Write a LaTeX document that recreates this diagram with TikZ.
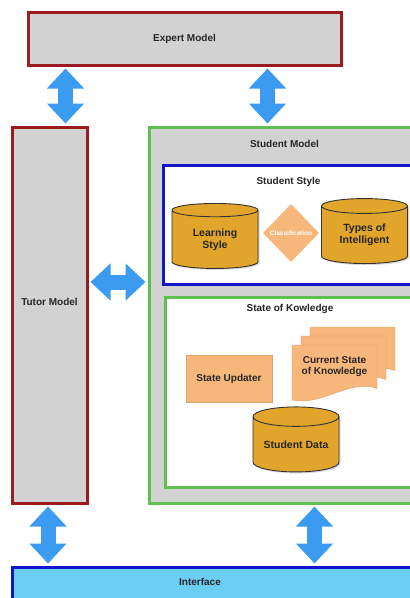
\documentclass[tikz,border=0pt]{standalone}
\usepackage{fontspec}
\setmainfont{Liberation Sans}
\usetikzlibrary{positioning,shapes.geometric,arrows.meta,shadows,calc}

\definecolor{modelgray}{HTML}{D2D2D2}
\definecolor{modelred}{HTML}{9B1B1F}
\definecolor{stugreen}{HTML}{5EC04E}
\definecolor{styleblue}{HTML}{1414C8}
\definecolor{ifaceblue}{HTML}{6CCDF5}
\definecolor{dbgold}{HTML}{E2A52B}
\definecolor{procorange}{HTML}{F7B67A}
\definecolor{arrowblue}{HTML}{3A9BF0}

\tikzset{
  model/.style={draw=modelred, fill=modelgray, line width=3pt, inner sep=0pt},
  frame/.style={line width=3pt, inner sep=0pt},
  title/.style={font=\bfseries\fontsize{10}{11}\selectfont, text=black!85, align=center},
  database/.style={cylinder, shape border rotate=90, aspect=0.3, draw=black!80,
    line width=0.9pt, fill=dbgold, minimum width=86pt, minimum height=65pt,
    inner sep=0pt, title, font=\bfseries\fontsize{10.5}{12}\selectfont,
    drop shadow={shadow xshift=1.5pt, shadow yshift=-1.5pt, opacity=0.3}},
  process/.style={fill=procorange, draw=procorange!90!black, line width=0.4pt, inner sep=0pt},
  fat/.style={line width=15pt, arrowblue,
    {Triangle[length=20pt,width=36pt]}-{Triangle[length=20pt,width=36pt]},
    shorten <=2pt, shorten >=2pt},
}

\begin{document}
\begin{tikzpicture}[x=1pt, y=-1pt]
\useasboundingbox (0,0) rectangle (410,598);
\clip (0,0) rectangle (410,598);

% models
\node[model, minimum width=313pt, minimum height=53pt] (expert) at (184.5,38.5) {};
\node[title] (experttext) at (expert.center) {Expert Model};
\node[model, minimum width=75pt, minimum height=376pt] (tutor) at (49.5,315) {};
\node[title] (tutortext) at ([yshift=13pt]tutor.center) {Tutor Model};
\node[frame, draw=stugreen, fill=modelgray, minimum width=271pt, minimum height=376pt] (smodel) at (284.5,315) {};
\node[title] (smodeltext) at ([yshift=-18pt]smodel.north) {Student Model};

% student style
\node[frame, draw=styleblue, fill=white, minimum width=251pt, minimum height=119pt] (sstyle) at (288.5,224.5) {};
\node[title] (sstyletext) at ([yshift=-18pt]sstyle.north) {Student Style};
\node[database] (learn) at (215,239.5) {Learning\\Style};
\node[database] (types) at (364.5,235) {Types of\\Intelligent};
\node[diamond, fill=procorange, minimum width=56pt, minimum height=58pt, inner sep=0pt,
  label={[text=white, font=\bfseries\fontsize{6.5}{7}\selectfont]center:Classification}] (classif) at (291,233) {};

% state of knowledge
\node[frame, draw=stugreen, fill=white, minimum width=250pt, minimum height=190pt] (sknow) at (290,392) {};
\node[title] (sknowtext) at ([yshift=-13pt]sknow.north) {State of Kowledge};
\node[process, minimum width=86pt, minimum height=47pt, title] (updater) at (229,378.5) {State Updater};
\coordinate (ck) at (334.5,372.5);
\foreach \d in {2,1,0}
  \draw[process, shift={($(ck)+(9*\d,-9*\d)$)}]
    (-42.5,-27.5) -- (42.5,-27.5) -- (42.5,16)
    .. controls (15,6) and (-12,34) .. (-42.5,27.5) -- cycle;
\node[title] (curknow) at ([yshift=6pt]ck) {Current State\\of Knowledge};
\node[database] (sdata) at (296,444.5) {Student Data};

% interface
\node[frame, draw=styleblue, fill=ifaceblue, minimum width=408pt, minimum height=40pt] (iface) at (216,587) {};
\node[title] (ifacetext) at (200,582) {Interface};

% connectors
\draw[fat] ([xshift=39pt]expert.south west) -- ([xshift=39pt]expert.south west |- tutor.north);
\draw[fat] ([xshift=-75pt]expert.south east) -- ([xshift=-75pt]expert.south east |- smodel.north);
\draw[fat] ([yshift=33pt]tutor.east) -- ([yshift=33pt]tutor.east -| smodel.west);
\draw[fat] ([xshift=-1.5pt]tutor.south) -- ([xshift=-1.5pt]tutor.south |- iface.north);
\draw[fat] ([xshift=167pt]smodel.south west) -- ([xshift=167pt]smodel.south west |- iface.north);
\end{tikzpicture}
\end{document}
